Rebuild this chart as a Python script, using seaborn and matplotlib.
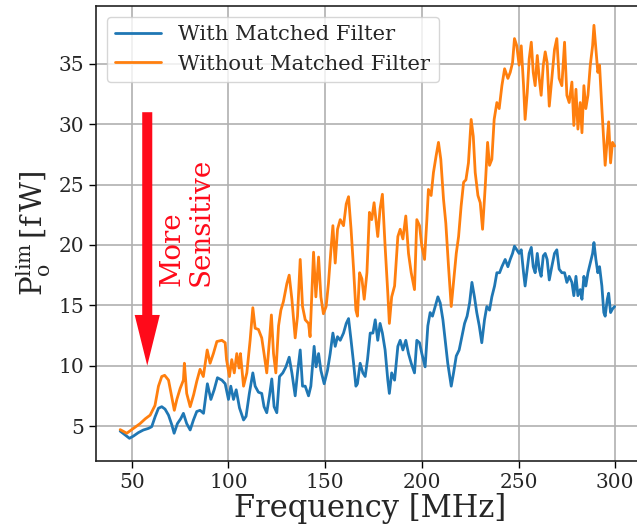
import numpy as np
import pandas as pd
import matplotlib
matplotlib.use("Agg")
import matplotlib.pyplot as plt
import seaborn as sns

# values
freq_with = [44, 46.6, 48.8, 50.9, 53.4, 56, 58.6, 60.3, 62.1, 63.8, 65.5, 67.2, 69, 70.7, 71.9, 73.6,
             75.3, 76.7, 78.4, 80.2, 81.9, 83.6, 85.3, 87.1, 89.1, 90.9, 92.6, 94.3, 96.6, 98.3, 100,
             101.2, 102.6, 104, 105.7, 107.8, 109.1, 110.8, 112.6, 113.8, 115.5, 117.2, 118.4, 119.8,
             121.2, 122.4, 123.6, 125, 126.4, 128.1, 129.7, 131.4, 132.8, 134.5, 135.7, 137.1, 138.3,
             139.7, 141.4, 142.6, 144.3, 145.3, 146.6, 147.8, 149.5, 151.2, 152.6, 154, 155.2, 156.4,
             157.8, 159.5, 160.9, 162.1, 163.4, 164.7, 165.9, 166.7, 168.1, 169.5, 170.7, 171.9, 173.3,
             174.7, 175.9, 177.2, 178.4, 179.6, 181, 182.4, 183.2, 184.4, 185.9, 187.6, 188.8, 190.2,
             191.7, 193.1, 194.5, 196.2, 197.4, 198.8, 200, 201.7, 203.1, 204.3, 205.5, 206.9, 208.3,
             209.5, 210.9, 212.1, 213.4, 215.2, 216.4, 217.8, 219.3, 220.7, 222.1, 223.4, 224.7, 225.9,
             227.2, 228.4, 229.7, 231, 232.4, 233.6, 235, 236.2, 237.6, 238.8, 240.2, 241.4, 243.1,
             244.5, 245.7, 246.9, 247.9, 249.1, 250.3, 251.4, 252.6, 253.4, 254.5, 255.5, 256.6, 257.6,
             258.6, 259.7, 260.7, 261.7, 262.8, 263.8, 264.8, 265.9, 267.2, 268.6, 269.8, 271, 272.4,
             273.8, 275, 276.2, 277.6, 278.6, 279.7, 280.7, 281.9, 282.8, 283.8, 284.8, 285.9, 287.1,
             288.3, 289, 290, 291, 291.9, 293.1, 294.1, 294.8, 295.9, 296.6, 297.6, 298.6, 299.7]
p_with = [4.58, 4.25, 3.98, 4.17, 4.45, 4.67, 4.8, 4.94, 5.78, 6.47, 6.6, 6.4, 5.9, 5.1, 4.4, 5.2,
          5.6, 6.05, 5.2, 4.67, 5.5, 6.2, 6.3, 6.05, 8.5, 7.2, 8.0, 9.0, 8.8, 8.5, 7.2,
          8.3, 7.2, 8.0, 6.5, 5.5, 5.8, 7.7, 9.4, 8.3, 7.8, 7.7, 6.6, 6.1,
          7.5, 8.9, 6.6, 6.1, 9.1, 9.4, 9.9, 10.7, 9.4, 7.5, 9.4, 11.3, 8.3,
          8.3, 7.5, 8.3, 11.6, 9.9, 11.0, 9.6, 8.5, 9.6, 11.0, 12.7, 11.6, 12.4,
          12.1, 12.7, 13.5, 13.9, 12.1, 10.2, 8.3, 8.5, 10.2, 9.4, 9.1, 10.5, 12.7,
          12.7, 13.8, 12.1, 13.5, 12.7, 11.3, 8.8, 7.7, 9.4, 8.8, 11.6, 12.1, 11.3,
          12.1, 11.0, 10.2, 9.4, 12.1, 11.9, 11.0, 9.9, 13.3, 14.4, 14.1, 14.9, 15.7,
          15.2, 13.8, 12.1, 10.2, 8.3, 9.4, 10.8, 11.3, 12.4, 13.5, 14.1, 15.2, 16.9,
          15.7, 14.4, 13.3, 11.9, 13.8, 14.9, 14.6, 15.7, 16.6, 17.7, 17.7, 18.2, 18.8,
          18.2, 18.8, 19.3, 19.9, 19.6, 19.3, 19.6, 17.7, 16.6, 18.0, 19.3, 19.8, 18.2,
          17.7, 19.3, 18.0, 17.4, 19.1, 19.3, 18.8, 17.1, 18.2, 19.3, 19.6, 18.0, 17.7,
          17.7, 16.9, 17.4, 16.9, 15.8, 17.4, 15.8, 16.3, 15.5, 17.4, 16.6, 17.7, 18.5,
          19.3, 20.2, 18.8, 17.7, 18.2, 16.6, 14.4, 14.1, 15.5, 16.0, 14.4, 14.7, 14.9]

freq_without = [44, 47.4, 50, 54.3, 57, 59.5, 62, 63.8, 65.5, 67, 69, 70.7, 72, 73.3, 75, 76.7, 77.2,
                78.4, 80.2, 82, 83.6, 85.3, 87, 89, 90.5, 92.2, 94, 96.6, 98.3, 99, 100.5, 101.7, 103,
                104.3, 105.5, 106.2, 107.8, 109.5, 111.2, 112.6, 113.8, 115.5, 117.2, 118.4, 119.8,
                121.2, 122.2, 123.3, 124.5, 125.9, 127.1, 128.4, 130.2, 131.4, 132.8, 134.5, 135.7,
                137.1, 138.3, 139.7, 141.4, 142.2, 144, 145.2, 146.6, 147.8, 149.1, 150.5, 151.7,
                152.9, 154, 155.2, 156.4, 157.8, 159.5, 160.9, 162.1, 163.4, 164.7, 165.9, 166.7,
                167.8, 169, 170.2, 171.6, 172.9, 174.1, 175.3, 177.2, 178.4, 179.6, 181, 182.4, 183.2,
                184.4, 185.9, 187.6, 188.8, 190.2, 191.7, 193.1, 194.5, 196.2, 197.4, 198.8, 200,
                201.4, 202.6, 203.4, 204.8, 206, 207.4, 208.6, 209.8, 211.2, 212.4, 213.8, 215.2,
                216.4, 217.8, 219, 220.3, 221.6, 222.8, 224.1, 225.5, 226.6, 227.6, 229, 230.2, 231.4,
                232.8, 234, 235, 236.2, 237.4, 238.8, 240, 241.4, 242.8, 244.5, 245.7, 246.9, 247.9,
                249.1, 250.3, 251.4, 252.6, 253.4, 254.5, 255.5, 256.6, 257.6, 258.6, 259.7, 260.7,
                261.7, 262.8, 263.8, 264.8, 265.9, 267.2, 268.6, 269.8, 271, 272.4, 273.8, 275, 276.2,
                277.6, 278.6, 279.7, 280.7, 281.9, 282.8, 283.8, 284.8, 285.9, 287.1, 288.3, 289, 290,
                291, 291.9, 293.1, 294.1, 294.8, 295.9, 296.6, 297.6, 298.6, 299.7]
p_without = [4.7, 4.4, 4.7, 5.2, 5.6, 5.9, 6.7, 8.3, 9.1, 9.2, 8.8, 7.4, 6.3, 7.2, 8.1, 8.8, 10.2,
             7.7, 6.6, 7.6, 8.7, 9.7, 9.1, 11.3, 10.2, 11.0, 12.0, 12.1, 11.9, 10.5, 9.1, 10.5, 9.4,
             11.0, 9.8, 11.0, 8.3, 9.4, 12.1, 14.8, 13.1, 13.0, 12.3, 11.0, 9.4,
             12.1, 14.2, 11.0, 9.4, 13.3, 14.6, 15.3, 16.8, 17.5, 15.5, 12.3, 14.1,
             18.8, 14.9, 13.8, 13.5, 12.4, 19.4, 15.7, 19.0, 15.7, 14.3, 14.9, 16.8,
             19.4, 21.6, 18.5, 21.3, 22.1, 21.6, 23.4, 24.0, 21.3, 18.0, 14.6, 14.1,
             17.7, 17.2, 15.5, 17.7, 22.7, 22.1, 23.5, 20.7, 23.0, 24.2, 19.9, 16.0, 13.5,
             15.7, 16.6, 20.7, 21.3, 20.5, 22.4, 19.3, 17.7, 16.3, 22.1, 21.6, 19.9,
             18.8, 22.1, 24.6, 24.1, 26.0, 27.4, 28.5, 27.1, 23.8, 21.8, 18.2, 14.9,
             16.9, 19.3, 20.7, 23.2, 25.2, 25.4, 26.8, 30.4, 29.0, 26.0, 24.1, 23.5, 21.3,
             24.9, 28.5, 26.6, 27.1, 30.4, 31.8, 31.3, 33.2, 34.6, 33.8, 34.3, 35.1, 37.1,
             36.5, 34.9, 36.5, 33.2, 30.4, 32.6, 35.4, 36.8, 34.3, 33.2, 35.7, 33.8,
             32.4, 34.9, 36.0, 35.1, 31.5, 33.8, 36.2, 37.1, 33.8, 33.2, 36.8, 32.4, 31.8,
             33.5, 29.9, 32.9, 29.6, 31.8, 29.3, 33.2, 31.3, 32.4, 34.9, 36.5, 38.2, 36.2,
             34.3, 34.9, 31.3, 28.5, 26.6, 28.8, 30.2, 26.8, 28.5, 28.2]

labels = ["With Matched Filter", "Without Matched Filter"]

df = pd.concat([
    pd.DataFrame({"freq": freq_with, "p": p_with, "kind": labels[0]}),
    pd.DataFrame({"freq": freq_without, "p": p_without, "kind": labels[1]}),
])

sns.set_style("ticks", {"axes.grid": True, "grid.color": "#b0b0b0",
                        "axes.edgecolor": "black", "xtick.direction": "out",
                        "ytick.direction": "out"})
plt.rcParams["font.family"] = ["DejaVu Serif"]
plt.rcParams["mathtext.fontset"] = "dejavuserif"

fig = plt.figure(figsize=(6.37, 5.27), dpi=100)
# right spine falls just outside the picture, as in the original crop
ax = fig.add_axes([96 / 637, 1 - 461 / 527, (645 - 96) / 637, (461 - 6) / 527])

sns.lineplot(data=df, x="freq", y="p", hue="kind", hue_order=labels,
             palette=["#1f77b4", "#ff7f0e"], estimator=None, linewidth=2, ax=ax)

ax.set_xlim(31.5, 315.4)
ax.set_ylim(2.1, 39.8)
ax.set_xticks([50, 100, 150, 200, 250, 300])
ax.set_yticks([5, 10, 15, 20, 25, 30, 35])
ax.tick_params(labelsize=14.5, length=5, width=1, color="black")
ax.grid(True, color="#b0b0b0", linewidth=1.2)
for s in ax.spines.values():
    s.set_linewidth(1.2)
    s.set_color("#222222")

ax.set_xlabel("Frequency [MHz]", fontsize=22, labelpad=1)
ax.set_ylabel(r"$\mathrm{P_o^{lim}}\,[\mathrm{f\,W}]$", fontsize=21, labelpad=4)

ax.legend(loc="upper left", fontsize=15.2, handlelength=2.2)

# arrow and label
ax.arrow(58, 31, 0, -21, width=5.2, head_width=13, head_length=4.2,
         length_includes_head=True, color="#ff0a1a", linewidth=0)
ax.text(78.5, 21.9, "More\nSensitive", rotation=90, color="#ff0a1a", fontsize=20,
        ha="center", va="center", multialignment="left", linespacing=1.1)

plt.savefig("out.png", dpi=100)
